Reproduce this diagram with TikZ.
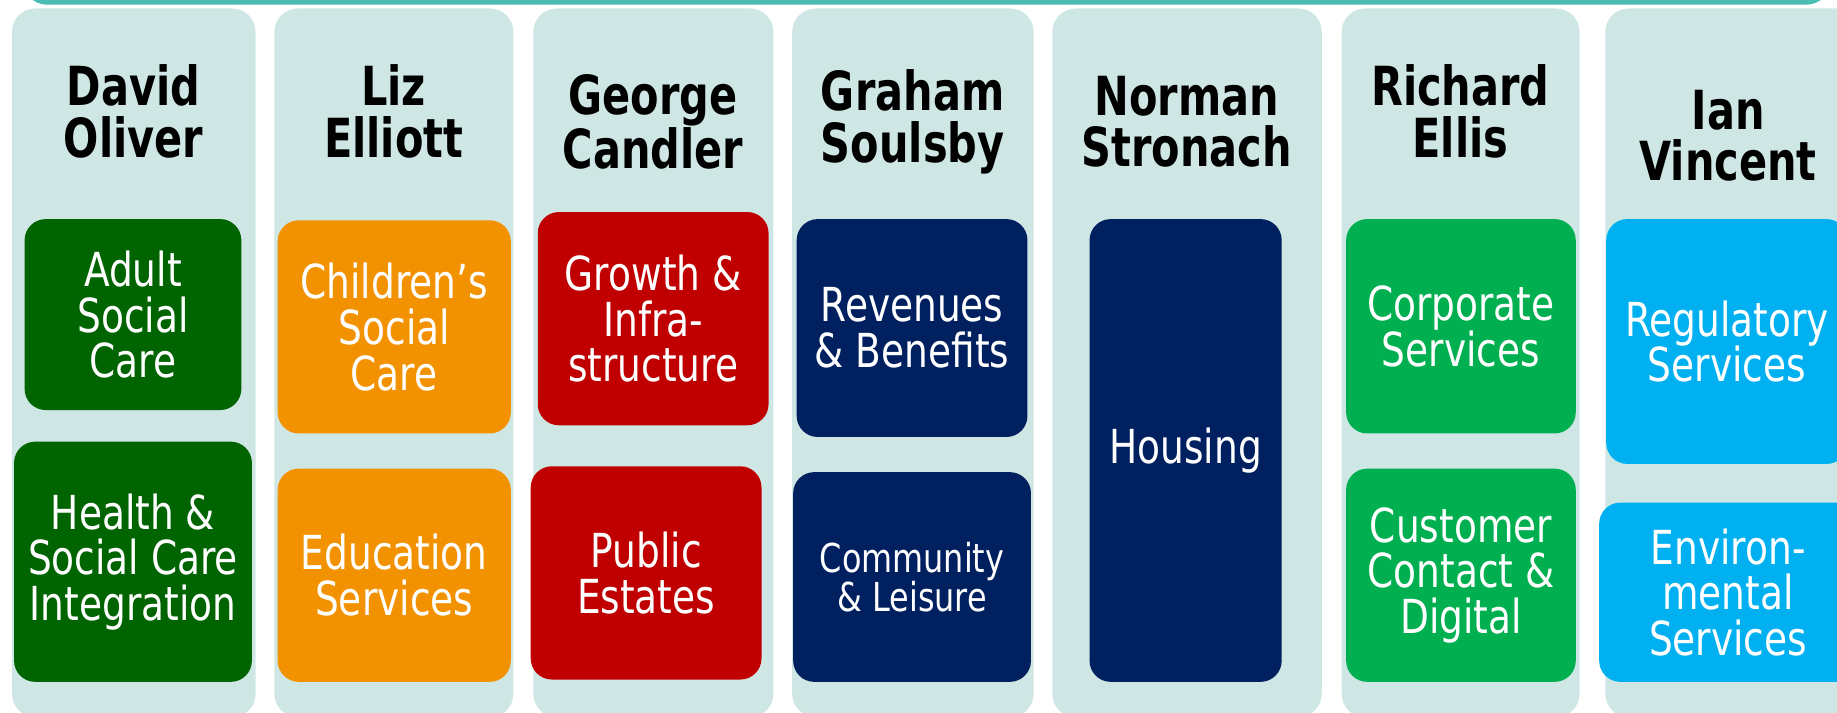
\documentclass[tikz,border=0pt]{standalone}
\usepackage{fontspec}
\newfontfamily\personfont{DejaVu Sans}[FakeStretch=0.77]
\newfontfamily\deptfont{DejaVu Sans}[FakeStretch=0.8]
\definecolor{lanebg}{HTML}{CFE7E4}
\definecolor{topbar}{HTML}{4BBDB3}
\definecolor{dkgreen}{HTML}{006400}
\definecolor{amber}{HTML}{F39200}
\definecolor{crimson}{HTML}{C00000}
\definecolor{navy}{HTML}{002060}
\definecolor{leaf}{HTML}{00B050}
\definecolor{sky}{HTML}{00B0F0}

\begin{document}
\begin{tikzpicture}[x=1pt, y=-1pt,
	lane/.style={anchor=north west, fill=lanebg, rounded corners=20pt, inner sep=0pt, minimum height=605pt},
	person/.style={align=center, inner sep=0pt, font=\personfont\bfseries\fontsize{46}{44}\selectfont},
	dept/.style={fill=#1, text=white, rounded corners=18pt, inner sep=0pt, align=center,
		font=\deptfont\fontsize{40}{39}\selectfont},
	box/.style 2 args={minimum width=#1pt, minimum height=#2pt}]
	\useasboundingbox (0,0) rectangle (1568,608);
	\clip (0,0) rectangle (1568,608);
	\fill[topbar, rounded corners=20pt] (20,-40) rectangle (1562,4);

	\node[lane, minimum width=208pt] (laneOliver) at (10,7) {};
	\node[lane, minimum width=204pt] (laneElliott) at (234,7) {};
	\node[lane, minimum width=205pt] (laneCandler) at (455,7) {};
	\node[lane, minimum width=206pt] (laneSoulsby) at (676,7) {};
	\node[lane, minimum width=230pt] (laneStronach) at (898,7) {};
	\node[lane, minimum width=203pt] (laneEllis) at (1145,7) {};
	\node[lane, minimum width=220pt] (laneVincent) at (1370,7) {};

	\node[person] (pOliver) at (114,95) {David\\Oliver};
	\node[person] (pElliott) at (336,95) {Liz\\Elliott};
	\node[person] (pCandler) at (557.5,104) {George\\Candler};
	\node[person] (pSoulsby) at (779,104) {Graham\\Soulsby};
	\node[person] (pStronach) at (1013,104) {Norman\\Stronach};
	\node[person] (pEllis) at (1246.5,95) {Richard\\Ellis};
	\node[person] (pVincent) at (1475,116) {Ian\\Vincent};

	\node[dept=dkgreen, box={185}{163}] (adult) at (113.5,268.5) {Adult\\Social\\Care};
	\node[dept=dkgreen, box={203}{205}] (health) at (113.5,479.5) {Health \&\\Social Care\\Integration};
	\node[dept=amber, box={199}{182}] (children) at (336.5,279) {Children’s\\Social\\Care};
	\node[dept=amber, box={199}{182}] (education) at (336.5,491) {Education\\Services};
	\node[dept=crimson, box={197}{182}] (growth) at (557.5,272) {Growth \&\\Infra-\\structure};
	\node[dept=crimson, box={197}{182}] (estates) at (551.5,489) {Public\\Estates};
	\node[dept=navy, box={197}{186}] (revenues) at (778.5,280) {Revenues\\\& Benefits};
	\node[dept=navy, box={203}{179}, font=\deptfont\fontsize{34}{33}\selectfont] (community) at (778.5,492.5) {Community\\\& Leisure};
	\node[dept=navy, box={164}{395}] (housing) at (1012,384.5) {Housing};
	\node[dept=leaf, box={196}{183}] (corporate) at (1247,278.5) {Corporate\\Services};
	\node[dept=leaf, box={196}{182}] (customer) at (1247,491) {Customer\\Contact \&\\Digital};
	\node[dept=sky, box={206}{209}] (regulatory) at (1474,291.5) {Regulatory\\Services};
	\node[dept=sky, box={220}{153}] (environmental) at (1475,505.5) {Environ-\\mental\\Services};
\end{tikzpicture}
\end{document}
